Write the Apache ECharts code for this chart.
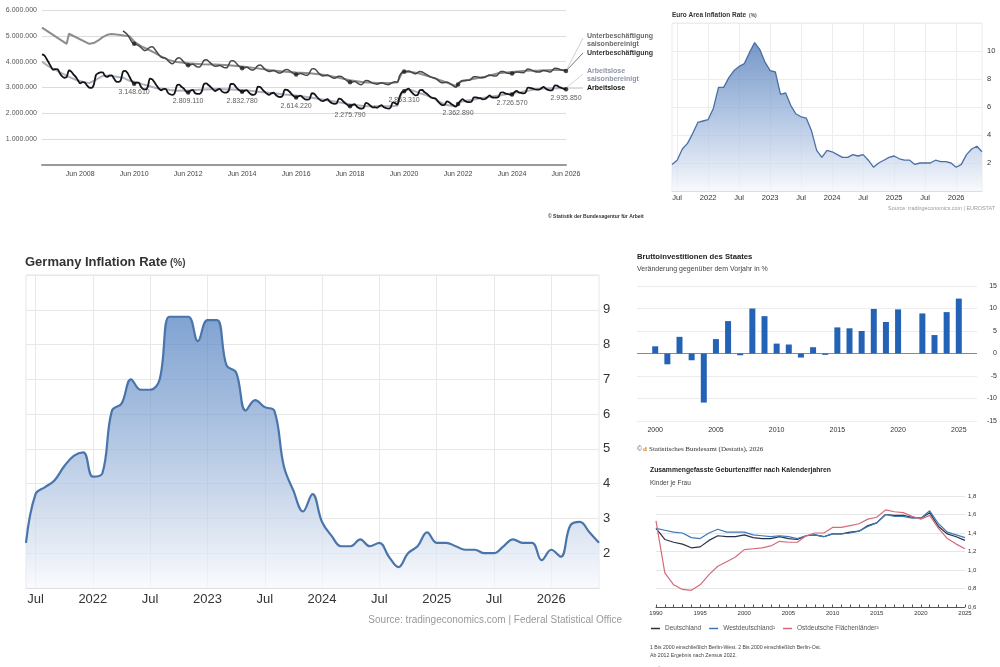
<!DOCTYPE html>
<html><head><meta charset="utf-8">
<script src="https://cdn.jsdelivr.net/npm/echarts@6/dist/echarts.min.js"></script>
<style>html,body{margin:0;padding:0;background:#fff}#c{width:1000px;height:667px}</style>
</head><body><div id="c"></div>
<script>
// ---------------- Chart 1: Arbeitslose / Unterbeschäftigung (Tsd.) ----------------
const arbeitsloseStart = '2007-01';
const arbeitsloseMonthly = [
 4284,4247,4124,3967,3812,3687,3715,3705,3543,3434,3378,3406,
 3659,3617,3507,3413,3283,3160,3210,3196,3081,2997,2988,3102,
 3489,3552,3586,3585,3458,3410,3462,3472,3346,3229,3215,3276,
 3617,3643,3568,3406,3242,3149,3192,3188,3031,2945,2927,3016,
 3346,3313,3210,3078,2960,2893,2939,2945,2796,2737,2713,2780,
 3084,3110,3028,2963,2855,2809,2876,2905,2788,2753,2751,2840,
 3138,3156,3098,3020,2937,2865,2914,2946,2849,2801,2806,2874,
 3136,3138,3055,2943,2882,2833,2871,2902,2808,2733,2717,2764,
 3032,3017,2932,2843,2762,2711,2773,2796,2708,2649,2633,2681,
 2920,2911,2845,2744,2664,2614,2661,2684,2608,2540,2532,2568,
 2777,2762,2662,2569,2498,2473,2518,2545,2449,2389,2368,2385,
 2570,2546,2458,2384,2315,2276,2325,2351,2256,2204,2186,2210,
 2406,2373,2301,2229,2236,2216,2275,2319,2234,2204,2180,2227,
 2426,2396,2335,2644,2813,2853,2910,2955,2847,2760,2699,2707,
 2901,2904,2827,2771,2687,2614,2590,2578,2465,2377,2317,2330,
 2462,2428,2362,2309,2260,2363,2470,2547,2486,2442,2434,2454,
 2616,2620,2594,2586,2544,2555,2617,2696,2627,2607,2606,2637,
 2805,2814,2769,2750,2723,2727,2809,2872,2806,2791,2774,2807,
 2993,2989,2967,2932,2919,2914,2970,3025,2955,2911,2885,2908,
 3085,3070,3020,2985,2955,2936
];
const arbeitsloseSA = [
 ['2007-01',4000],['2007-04',3820],['2007-07',3680],['2007-10',3550],['2008-01',3410],['2008-04',3300],['2008-07',3220],['2008-10',3170],
 ['2009-01',3300],['2009-04',3450],['2009-07',3460],['2009-10',3420],['2010-01',3380],['2010-04',3260],['2010-07',3200],['2010-10',3120],
 ['2011-01',3050],['2011-04',2970],['2011-07',2950],['2011-10',2900],['2012-01',2870],['2012-07',2890],['2013-01',2920],['2013-07',2940],
 ['2014-01',2920],['2014-07',2900],['2015-01',2840],['2015-07',2790],['2016-01',2730],['2016-07',2680],['2017-01',2600],['2017-07',2520],
 ['2018-01',2430],['2018-07',2330],['2019-01',2270],['2019-07',2270],['2020-01',2270],['2020-03',2300],['2020-05',2800],['2020-07',2920],
 ['2020-10',2880],['2021-01',2780],['2021-04',2700],['2021-07',2590],['2021-10',2430],['2022-01',2320],['2022-05',2260],['2022-07',2440],
 ['2022-10',2500],['2023-01',2530],['2023-04',2580],['2023-07',2620],['2023-10',2660],['2024-01',2700],['2024-04',2750],['2024-07',2800],
 ['2024-10',2830],['2025-01',2870],['2025-04',2930],['2025-07',2950],['2025-10',2970],['2026-01',2970],['2026-06',2970]
];
const unterbeschaeftigung = [
 ['2010-01',5190],['2010-03',5050],['2010-05',4760],['2010-06',4690],['2010-08',4620],['2010-10',4470],['2010-11',4430],
 ['2011-01',4560],['2011-02',4580],['2011-04',4380],['2011-06',4180],['2011-08',4130],['2011-10',3960],['2011-11',3920],
 ['2012-01',4120],['2012-02',4150],['2012-04',3990],['2012-06',3860],['2012-08',3900],['2012-10',3800],['2012-11',3790],
 ['2013-01',4050],['2013-02',4070],['2013-04',3940],['2013-06',3820],['2013-08',3850],['2013-10',3770],['2013-11',3760],
 ['2014-01',4030],['2014-02',4040],['2014-04',3880],['2014-06',3750],['2014-08',3780],['2014-10',3690],['2014-11',3680],
 ['2015-01',3850],['2015-02',3870],['2015-04',3720],['2015-06',3620],['2015-08',3660],['2015-10',3570],['2015-11',3560],
 ['2016-01',3680],['2016-02',3700],['2016-04',3590],['2016-06',3500],['2016-08',3540],['2016-10',3480],['2016-11',3470],
 ['2017-01',3720],['2017-02',3730],['2017-04',3560],['2017-06',3450],['2017-08',3480],['2017-10',3380],['2017-11',3360],
 ['2018-01',3440],['2018-02',3430],['2018-04',3300],['2018-06',3200],['2018-08',3230],['2018-10',3130],['2018-11',3110],
 ['2019-01',3270],['2019-02',3260],['2019-04',3170],['2019-06',3130],['2019-08',3180],['2019-10',3120],['2019-11',3110],
 ['2020-01',3200],['2020-02',3220],['2020-03',3200],['2020-04',3450],['2020-05',3580],['2020-06',3620],['2020-08',3640],['2020-10',3560],['2020-11',3530],
 ['2021-01',3620],['2021-02',3600],['2021-04',3500],['2021-06',3400],['2021-08',3350],['2021-10',3220],['2021-11',3180],
 ['2022-01',3210],['2022-03',3120],['2022-05',3010],['2022-06',3120],['2022-08',3270],['2022-10',3280],['2022-11',3280],
 ['2023-01',3420],['2023-02',3420],['2023-04',3380],['2023-06',3400],['2023-08',3480],['2023-10',3450],['2023-11',3450],
 ['2024-01',3620],['2024-02',3620],['2024-04',3550],['2024-06',3540],['2024-08',3600],['2024-10',3580],['2024-11',3570],
 ['2025-01',3720],['2025-02',3700],['2025-04',3620],['2025-06',3600],['2025-08',3660],['2025-10',3620],['2025-11',3600],
 ['2026-01',3750],['2026-02',3740],['2026-04',3680],['2026-06',3640]
];
const unterbeschaeftigungSA = [
 ['2007-01',5320],['2007-12',4690],['2008-01',5080],['2008-10',4690],['2008-12',4720],['2009-02',4820],['2009-04',4950],['2009-06',5040],
 ['2009-08',5070],['2009-11',5040],['2010-02',5000],['2010-04',4980],['2010-06',4780],['2010-09',4600],['2010-12',4480],['2011-03',4350],
 ['2011-06',4200],['2011-09',4080],['2011-12',4000],['2012-06',3940],['2012-12',3900],['2013-06',3890],['2013-12',3860],['2014-06',3810],
 ['2014-12',3750],['2015-06',3680],['2015-12',3620],['2016-06',3580],['2016-12',3550],['2017-06',3490],['2017-12',3400],['2018-06',3280],
 ['2018-12',3200],['2019-06',3170],['2019-12',3170],['2020-03',3200],['2020-05',3550],['2020-08',3610],['2020-12',3560],['2021-06',3400],
 ['2021-12',3220],['2022-05',3060],['2022-07',3220],['2022-12',3320],['2023-06',3420],['2023-12',3550],['2024-06',3600],['2024-12',3650],
 ['2025-06',3660],['2025-12',3680],['2026-06',3680]
];
const labelYears = [2010,2012,2014,2016,2018,2020,2022,2024,2026];
const labelValues = [3148610,2809110,2832780,2614220,2275790,2853310,2362890,2726570,2935850];
const xTickYears1 = [2008,2010,2012,2014,2016,2018,2020,2022,2024,2026];

// ---------------- Chart 2: Euro Area Inflation Rate ----------------
const euroStart = '2021-06';
const euroValues = [1.9,2.2,3.0,3.4,4.1,4.9,5.0,5.1,5.9,7.4,7.4,8.1,8.6,8.9,9.1,9.9,10.6,10.1,9.2,8.6,8.5,6.9,7.0,6.1,5.5,5.3,5.2,4.3,2.9,2.4,
 2.9,2.8,2.6,2.4,2.4,2.6,2.5,2.6,2.2,1.7,2.0,2.2,2.4,2.5,2.3,2.2,2.2,1.9,2.0,2.0,2.0,2.2,2.1,2.1,2.0,1.7,1.9,2.6,3.0,3.2,2.8];

// ---------------- Chart 3: Germany Inflation Rate ----------------
const germanyStart = '2021-06';
const germanyValues = [2.3,3.7,3.9,4.1,4.5,4.8,4.9,4.2,4.3,6.1,6.3,7.0,6.7,6.7,7.0,8.8,8.8,8.8,8.1,8.7,8.7,7.4,7.2,6.1,6.4,6.2,6.1,4.5,3.8,3.2,
 3.7,2.9,2.5,2.2,2.2,2.4,2.2,2.3,1.9,1.6,2.0,2.2,2.6,2.3,2.3,2.2,2.1,2.1,2.0,2.0,2.2,2.4,2.3,2.3,1.8,2.1,1.9,2.8,2.9,2.6,2.3];

// ---------------- Chart 4: Bruttoinvestitionen des Staates ----------------
const bruttoYears = [1999,2000,2001,2002,2003,2004,2005,2006,2007,2008,2009,2010,2011,2012,2013,2014,2015,2016,2017,2018,2019,2020,2021,2022,2023,2024,2025,2026];
const bruttoValues = [null,1.6,-2.4,3.7,-1.5,-10.9,3.2,7.2,-0.4,10.0,8.3,2.2,2.0,-0.9,1.4,-0.3,5.8,5.6,5.0,9.9,7.0,9.8,null,8.9,4.1,9.2,12.2,null];

// ---------------- Chart 5: Geburtenziffer ----------------
const geburtYears = [1990,1991,1992,1993,1994,1995,1996,1997,1998,1999,2000,2001,2002,2003,2004,2005,2006,2007,2008,2009,2010,2011,2012,2013,2014,2015,2016,2017,2018,2019,2020,2021,2022,2023,2024,2025];
const deutschland = [1.45,1.33,1.30,1.28,1.24,1.25,1.32,1.37,1.36,1.36,1.38,1.35,1.34,1.34,1.36,1.34,1.33,1.37,1.38,1.36,1.39,1.39,1.41,1.42,1.48,1.51,1.60,1.59,1.59,1.57,1.56,1.62,1.47,1.39,1.36,1.32];
const westdeutschland = [1.45,1.43,1.41,1.40,1.35,1.34,1.40,1.44,1.41,1.41,1.41,1.38,1.37,1.36,1.37,1.36,1.34,1.37,1.38,1.36,1.39,1.39,1.40,1.42,1.47,1.51,1.60,1.58,1.58,1.56,1.56,1.64,1.50,1.41,1.38,1.35];
const ostdeutschland = [1.53,0.97,0.84,0.79,0.78,0.84,0.95,1.04,1.09,1.14,1.22,1.23,1.24,1.26,1.31,1.30,1.30,1.37,1.40,1.40,1.46,1.46,1.48,1.50,1.55,1.57,1.65,1.63,1.62,1.58,1.55,1.59,1.45,1.34,1.28,1.23];

// ---------------- helpers ----------------
const FONT = "'Liberation Sans', Arial, sans-serif";
const toTs = s => { const [y, m] = s.split('-').map(Number); return Date.UTC(y, m - 1, 1); };
const fmtDots = n => String(Math.round(n)).replace(/\B(?=(\d{3})+(?!\d))/g, '.');
function monthList(start, n) {
  let [y, m] = start.split('-').map(Number); const out = [];
  for (let i = 0; i < n; i++) { out.push(y + '-' + String(m).padStart(2, '0')); m++; if (m > 12) { m = 1; y++; } }
  return out;
}
const alDates = monthList(arbeitsloseStart, arbeitsloseMonthly.length);
const euroCats = monthList(euroStart, euroValues.length);
const gerCats = monthList(germanyStart, germanyValues.length);
const halfYear = (idx, val) => { const mm = String(val).slice(5, 7); return mm === '01' || mm === '07'; };
const halfYearFmt = val => String(val).slice(5, 7) === '07' ? 'Jul' : String(val).slice(0, 4);
const pairs = arr => arr.map(([d, v]) => [toTs(d), v]);
const isEvenJune = d => d.endsWith('-06') && Number(d.slice(0, 4)) % 2 === 0;

const chart = echarts.init(document.getElementById('c'), null, { renderer: 'canvas' });

const txt = (x, y, text, size, opts = {}) => ({
  type: 'text', silent: true,
  style: { x, y, text, fill: opts.fill || '#333',
    font: (opts.bold ? 'bold ' : '') + size + 'px ' + (opts.family || FONT),
    textAlign: opts.align || 'left', textVerticalAlign: 'middle' }
});
const seg = (x1, y1, x2, y2, color, w) => ({ type: 'line', silent: true, shape: { x1, y1, x2, y2 }, style: { stroke: color, lineWidth: w || 1 } });

const option = {
  animation: false,
  backgroundColor: '#fff',
  textStyle: { fontFamily: FONT },
  grid: [
    { left: 42, top: 10, width: 524, height: 155 },
    { left: 672, top: 23, width: 310, height: 168, show: true, borderColor: '#ececec', borderWidth: 1 },
    { left: 26, top: 275, width: 573, height: 313, show: true, borderColor: '#e6e6e6', borderWidth: 1 },
    { left: 637, top: 286, width: 340, height: 135 },
    { left: 656, top: 496, width: 309, height: 111 }
  ],
  xAxis: [
    { type: 'value', gridIndex: 0, min: toTs('2007-01'), max: toTs('2026-06'),
      axisLine: { lineStyle: { color: '#9a9a9a', width: 2 } }, axisTick: { show: false }, splitLine: { show: false },
      axisLabel: { customValues: xTickYears1.map(y => toTs(y + '-06')), formatter: v => 'Jun ' + new Date(v).getUTCFullYear(),
        fontSize: 7, color: '#444', margin: 6, showMinLabel: true, showMaxLabel: true } },
    { type: 'category', gridIndex: 1, data: euroCats, boundaryGap: false,
      axisLine: { lineStyle: { color: '#dedede' } }, axisTick: { show: false },
      axisLabel: { interval: halfYear, formatter: halfYearFmt, fontSize: 7.5, color: '#333', margin: 3 },
      splitLine: { show: true, interval: halfYear, lineStyle: { color: '#ededed' } } },
    { type: 'category', gridIndex: 2, data: gerCats, boundaryGap: false,
      axisLine: { lineStyle: { color: '#e0e0e0' } }, axisTick: { show: false },
      axisLabel: { interval: halfYear, formatter: halfYearFmt, fontSize: 13, color: '#333', margin: 5 },
      splitLine: { show: true, interval: halfYear, lineStyle: { color: '#e8e8e8' } } },
    { type: 'category', gridIndex: 3, data: bruttoYears.map(String), boundaryGap: true,
      axisLine: { show: false, onZero: false }, axisTick: { show: false },
      axisLabel: { interval: (i, v) => Number(v) % 5 === 0, fontSize: 7, color: '#333', margin: 6 } },
    { type: 'category', gridIndex: 4, data: geburtYears.map(String), boundaryGap: false,
      axisLine: { lineStyle: { color: '#555', width: 1 } },
      axisTick: { show: true, inside: true, length: 2.5, interval: 0, lineStyle: { color: '#555' } },
      axisLabel: { interval: (i, v) => Number(v) % 5 === 0, fontSize: 6, color: '#333', margin: 3 } }
  ],
  yAxis: [
    { type: 'value', gridIndex: 0, min: 0, max: 6000, interval: 1000,
      axisLine: { show: false }, axisTick: { show: false },
      axisLabel: { formatter: v => v === 0 ? '' : fmtDots(v * 1000), fontSize: 7, color: '#555', margin: 5 },
      splitLine: { lineStyle: { color: '#dcdcdc' } } },
    { type: 'value', gridIndex: 1, position: 'right', min: 0, max: 12, interval: 2,
      axisLine: { show: false }, axisTick: { show: false },
      axisLabel: { formatter: v => (v === 0 || v === 12) ? '' : String(v), fontSize: 7.5, color: '#333', margin: 5 },
      splitLine: { lineStyle: { color: '#ededed' } } },
    { type: 'value', gridIndex: 2, position: 'right', min: 1, max: 10, interval: 1,
      axisLine: { show: false }, axisTick: { show: false },
      axisLabel: { formatter: v => (v === 1 || v === 10) ? '' : String(v), fontSize: 13, color: '#333', margin: 4 },
      splitLine: { lineStyle: { color: '#e8e8e8' } } },
    { type: 'value', gridIndex: 3, position: 'right', min: -15, max: 15, interval: 5,
      axisLine: { show: false }, axisTick: { show: false },
      axisLabel: { fontSize: 7, color: '#333', align: 'right', margin: 20 },
      splitLine: { lineStyle: { color: ['#ececec', '#ececec', '#ececec', '#8a8a8a', '#ececec', '#ececec', '#ececec'] } } },
    { type: 'value', gridIndex: 4, position: 'right', min: 0.6, max: 1.8, interval: 0.2,
      axisLine: { show: false }, axisTick: { show: false },
      axisLabel: { formatter: v => v.toFixed(1).replace('.', ','), fontSize: 6, color: '#333', margin: 3 },
      splitLine: { lineStyle: { color: '#e6e6e6' } } }
  ],
  legend: {
    data: ['Deutschland', 'Westdeutschland¹', 'Ostdeutsche Flächenländer²'],
    left: 651, top: 625, padding: 0, icon: 'rect', itemWidth: 9, itemHeight: 1.5, itemGap: 8,
    textStyle: { fontSize: 6.5, color: '#555' }, selectedMode: false
  },
  series: [
    { name: 'Unterbeschäftigung saisonbereinigt', type: 'line', xAxisIndex: 0, yAxisIndex: 0, data: pairs(unterbeschaeftigungSA),
      showSymbol: false, lineStyle: { color: '#8d8d8d', width: 2 }, z: 2 },
    { name: 'Arbeitslose saisonbereinigt', type: 'line', xAxisIndex: 0, yAxisIndex: 0, data: pairs(arbeitsloseSA),
      showSymbol: false, lineStyle: { color: '#aab1c0', width: 2 }, z: 2 },
    { name: 'Unterbeschäftigung', type: 'line', xAxisIndex: 0, yAxisIndex: 0, data: pairs(unterbeschaeftigung),
      showSymbol: false, smooth: 0.35, lineStyle: { color: '#474747', width: 1.5 }, z: 3 },
    { name: 'Arbeitslose', type: 'line', xAxisIndex: 0, yAxisIndex: 0,
      data: arbeitsloseMonthly.map((v, i) => [toTs(alDates[i]), v]),
      showSymbol: false, smooth: 0.3, lineStyle: { color: '#141414', width: 1.8 }, z: 4 },
    { name: 'Unterbeschäftigung Juni', type: 'scatter', xAxisIndex: 0, yAxisIndex: 0,
      data: pairs(unterbeschaeftigung.filter(([d]) => isEvenJune(d))),
      symbolSize: 4.5, itemStyle: { color: '#222' }, z: 5 },
    { name: 'Arbeitslose Juni', type: 'scatter', xAxisIndex: 0, yAxisIndex: 0,
      data: labelYears.map((y, i) => [toTs(y + '-06'), labelValues[i] / 1000]),
      symbolSize: 4.5, itemStyle: { color: '#111' }, z: 5,
      label: { show: true, position: 'bottom', distance: 3, formatter: p => fmtDots(labelValues[p.dataIndex]), fontSize: 7, color: '#333' } },
    { name: 'Euro Area', type: 'line', xAxisIndex: 1, yAxisIndex: 1, data: euroValues, showSymbol: false,
      lineStyle: { color: '#4a6fa5', width: 1.3 },
      areaStyle: { color: new echarts.graphic.LinearGradient(0, 0, 0, 1, [{ offset: 0, color: '#3d6cb0' }, { offset: 0.5, color: '#93afd8' }, { offset: 0.8, color: '#cbd8ec' }, { offset: 1, color: '#f4f7fb' }]) } },
    { name: 'Germany', type: 'line', xAxisIndex: 2, yAxisIndex: 2, data: germanyValues, showSymbol: false, smooth: 0.4,
      lineStyle: { color: '#4a75aa', width: 2.2 },
      areaStyle: { color: new echarts.graphic.LinearGradient(0, 0, 0, 1, [{ offset: 0, color: '#4a7cbf' }, { offset: 0.38, color: '#84a5d2' }, { offset: 0.7, color: '#bccde6' }, { offset: 1, color: '#f7f9fc' }]) } },
    { name: 'Bruttoinvestitionen', type: 'bar', xAxisIndex: 3, yAxisIndex: 3, data: bruttoValues, barWidth: 6,
      itemStyle: { color: '#2462b6' } },
    { name: 'Deutschland', type: 'line', xAxisIndex: 4, yAxisIndex: 4, data: deutschland, showSymbol: false,
      lineStyle: { color: '#2a3146', width: 1.2 }, itemStyle: { color: '#2a3146' } },
    { name: 'Westdeutschland¹', type: 'line', xAxisIndex: 4, yAxisIndex: 4, data: westdeutschland, showSymbol: false,
      lineStyle: { color: '#3c79b7', width: 1.2 }, itemStyle: { color: '#3c79b7' } },
    { name: 'Ostdeutsche Flächenländer²', type: 'line', xAxisIndex: 4, yAxisIndex: 4, data: ostdeutschland, showSymbol: false,
      lineStyle: { color: '#d46b7a', width: 1.2 }, itemStyle: { color: '#d46b7a' } }
  ],
  graphic: { elements: [
    seg(566, 71, 583, 38, '#cfcfcf', 1), seg(566, 71, 583, 53, '#777', 1),
    seg(566, 88, 583, 74, '#cfd3dc', 1), seg(566, 88, 583, 88, '#bbb', 1),
    txt(587, 36, 'Unterbeschäftigung', 7, { bold: true, fill: '#6a6a6a' }),
    txt(587, 44.5, 'saisonbereinigt', 7, { bold: true, fill: '#6a6a6a' }),
    txt(587, 53, 'Unterbeschäftigung', 7, { bold: true, fill: '#333' }),
    txt(587, 71, 'Arbeitslose', 7, { bold: true, fill: '#8c95a8' }),
    txt(587, 79.5, 'saisonbereinigt', 7, { bold: true, fill: '#8c95a8' }),
    txt(587, 88, 'Arbeitslose', 7, { bold: true, fill: '#111' }),
    txt(548, 217, '© Statistik der Bundesagentur für Arbeit', 5, { bold: true, fill: '#333' }),
    txt(672, 15, 'Euro Area Inflation Rate', 6.5, { bold: true, fill: '#333' }),
    txt(749, 15.5, '(%)', 5, { bold: true, fill: '#555' }),
    txt(995, 209, 'Source: tradingeconomics.com | EUROSTAT', 5.4, { fill: '#999', align: 'right' }),
    txt(25, 262, 'Germany Inflation Rate', 13, { bold: true, fill: '#333' }),
    txt(170, 263, '(%)', 10, { bold: true, fill: '#444' }),
    txt(622, 620, 'Source: tradingeconomics.com | Federal Statistical Office', 10, { fill: '#999', align: 'right' }),
    txt(637, 257, 'Bruttoinvestitionen des Staates', 7.7, { bold: true, fill: '#222' }),
    txt(637, 269, 'Veränderung gegenüber dem Vorjahr in %', 7, { fill: '#444' }),
    txt(637, 449, '©', 7, { fill: '#666' }),
    txt(643, 449, 'd', 7, { bold: true, fill: '#d9822b', family: "'Liberation Serif', serif" }),
    txt(649, 449, 'Statistisches Bundesamt (Destatis), 2026', 7, { fill: '#333', family: "'Liberation Serif', serif" }),
    txt(650, 470, 'Zusammengefasste Geburtenziffer nach Kalenderjahren', 6.8, { bold: true, fill: '#222' }),
    txt(650, 483, 'Kinder je Frau', 6.5, { fill: '#444' }),
    txt(650, 648, '1 Bis 2000 einschließlich Berlin-West. 2 Bis 2000 einschließlich Berlin-Ost.', 5.2, { fill: '#444' }),
    txt(650, 656, 'Ab 2012 Ergebnis nach Zensus 2022.', 5.2, { fill: '#444' }),
    txt(657, 669, '© Statistisches Bundesamt (Destatis), 2026', 6, { fill: '#888' })
  ] }
};
chart.setOption(option);
</script>
</body></html>
